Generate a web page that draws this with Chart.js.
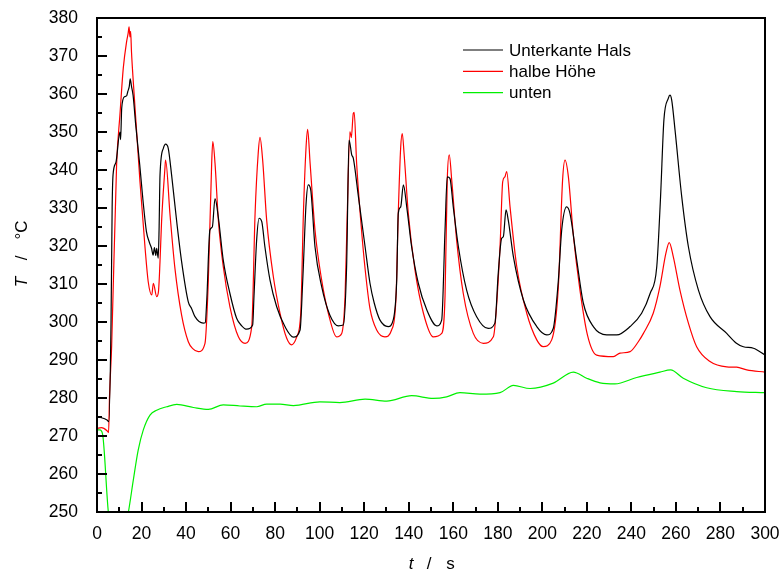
<!DOCTYPE html>
<html>
<head>
<meta charset="utf-8">
<script src="https://cdn.jsdelivr.net/npm/chart.js@4.4.1/dist/chart.umd.min.js"></script>
<style>
  html, body { margin: 0; padding: 0; background: #fff; }
</style>
</head>
<body>
<canvas id="tempChart" width="780" height="572"></canvas>
<script>
// Unterkante Hals (black)
const timeHals = [0, 2, 4.5, 5.3, 6.3, 6.8, 7.2, 8.5, 10.3, 10.6, 11.1, 12.4, 13.3, 13.8, 14.5, 14.9, 15.5, 16.2, 17.4, 19.2,
  20.7, 22.2, 23.5, 24.5, 25.2, 25.8, 26.4, 26.8, 27.5, 27.9, 28.3, 29.8, 30.8, 32, 33.5, 35.8, 38, 41, 42.5, 44,
  47.7, 48.6, 49.3, 50.7, 51.8, 53, 54.5, 56.7, 59.7, 62.7, 65, 67.2, 69.9, 70.5, 71.7, 72.8, 74, 75.4, 77.7, 80.7,
  84.4, 88.2, 91.2, 92.4, 93.9, 94.9, 96, 97.9, 100.9, 104.6, 108.4, 110.6, 112.1, 113.2, 114.4, 115.1, 117.4, 120.4, 122.6, 124.5,
  127.1, 130.8, 133, 134.6, 135.3, 136.4, 137.6, 139.1, 141.3, 144.3, 148.1, 152.6, 154.8, 156.3, 157.3, 158.5, 160, 162.3, 166, 170.5,
  175.7, 178.7, 180.2, 181.7, 182.5, 183.7, 184.7, 187, 191.5, 197.5, 202, 204.9, 207.2, 208.7, 210.9, 212.4, 215.4, 218.4, 222.9, 228.9,
  233.4, 239.4, 244.6, 248.4, 251.4, 253.1, 254.6, 256.6, 257.3, 258.1, 259.6, 262.6, 265.6, 270.1, 275.3, 282.8, 287, 290.3, 294.8, 300];
const tempHals = [275, 274.8, 274.2, 273.8, 300, 330, 338.7, 342, 350, 348, 356.3, 359.3, 359.5, 360.6, 362, 364, 362, 359.7, 351.8, 341.3,
  331.7, 323.8, 321, 319.4, 317.6, 319.6, 317.5, 319.4, 316.8, 325, 338.7, 345.7, 346.8, 345.7, 338.7, 326.4, 315.9, 305.3, 303.5, 301.4,
  299.7, 299.8, 305.8, 324.2, 325, 332.5, 327.5, 316.3, 307.5, 301, 299, 298.1, 299.2, 306.7, 321.6, 327.3, 326.4, 319.8, 311, 304,
  298.8, 296, 297.9, 311, 331.2, 336.1, 334.7, 319.8, 309.3, 301.8, 299, 299.2, 314.6, 347.9, 344, 343.1, 333, 319.8, 310.2, 305,
  300.5, 298.8, 300.5, 311, 328.6, 330.3, 336.1, 330.3, 319.8, 310.2, 303.2, 299, 300.5, 324.2, 338.2, 337.8, 330.3, 319.8, 308.4, 301.4,
  298.3, 299.7, 312.8, 322, 322.5, 329.5, 326.8, 317.2, 305.8, 298.8, 296.6, 298.3, 311, 324.2, 330.3, 328.6, 316.5, 305, 298.8, 296.6,
  296.6, 298.8, 302.3, 307.5, 314.6, 333, 353.2, 358.9, 359.7, 358.4, 350.5, 333, 319.8, 308.4, 301.4, 297, 294.5, 293.5, 293.1, 291.3];

// halbe Höhe (red)
const timeHalb = [0, 2, 4.5, 5.2, 5.6, 6.6, 8.8, 10.3, 11.8, 13.3, 14, 14.4, 14.8, 15.1, 15.5, 16.3, 17.8, 19.3, 21.6, 23,
  24.6, 25.3, 26.8, 27.6, 28.3, 29, 30.5, 30.8, 32.8, 35, 38, 41, 43, 45.5, 48.5, 50, 51.5, 52, 53, 54.5,
  56.7, 59.7, 63.5, 66.5, 69.5, 71, 72.4, 73.2, 74.4, 76.2, 79.2, 82.2, 85.2, 87.4, 89.7, 91.5, 92.7, 93.9, 94.6, 95.7,
  97.9, 100.9, 103.9, 107.6, 109.9, 111.4, 112.4, 113.6, 114.2, 115.1, 115.5, 116.6, 118.8, 120.4, 122.6, 125.6, 129.3, 132.3, 134.3, 135.3,
  136.4, 137.1, 137.9, 139.8, 142.8, 146.6, 151, 154.8, 156.3, 157.3, 158.2, 159.3, 161.5, 164.5, 169, 173.5, 178, 181, 182.2, 183.2,
  184, 185.5, 188.5, 193, 197.5, 200.4, 204.2, 207.2, 209.1, 210.2, 211.7, 213.9, 216.9, 220.3, 224.4, 231.9, 234.9, 239.4, 243.1, 245.4,
  249.8, 252.8, 255.5, 257, 258.8, 261.8, 265.6, 269.3, 275.3, 282.8, 287.3, 291.8, 300];
const tempHalb = [272, 272.2, 271.4, 270.9, 280, 294, 341.3, 354.5, 366.8, 373.8, 376, 377.7, 375, 376.5, 371, 363.2, 350.1, 336.9, 319.4, 310.6,
  307.1, 310.2, 306.7, 308, 315.9, 326.4, 340.4, 342.6, 328.2, 314.1, 301.8, 294.8, 293, 292.2, 294.4, 311, 341.8, 347.5, 341.8, 326.8,
  314.6, 304, 296.1, 294.4, 298.8, 328.6, 344.4, 348.6, 342.6, 326.8, 311.9, 302.3, 295.7, 294, 296.1, 302.3, 328.6, 346.1, 350.7, 341.8,
  324.2, 311, 302.3, 296.1, 297, 306.7, 328.6, 350.1, 348.5, 354.9, 355.2, 341.8, 324.2, 314, 303.5, 297.9, 296.1, 297.9, 306.7, 328.6,
  346.1, 349.6, 344.4, 328.6, 313.7, 302.3, 296.1, 297, 306.7, 337.4, 344, 337.4, 321.6, 307.5, 297, 294.4, 296.1, 319.8, 336.9, 338.2,
  339.6, 330.3, 314.6, 302.3, 295.3, 293.5, 295.3, 309.3, 337.4, 342.6, 338.2, 323, 308.4, 296.5, 291.3, 290.9, 291.8, 292.2, 294.8, 297,
  302.3, 309.3, 318.1, 320.9, 317.2, 308.4, 299.7, 293.5, 289.6, 288.2, 288.1, 287.4, 286.8];

// unten (green)
const timeUnten = [0, 1.3, 2.5, 5.1, 9.5, 14.1, 16.3, 18.5, 20.8, 23.8, 26.8, 31.3, 35.8, 43.3, 50, 56.7, 64.2, 71.7, 76.2, 82.2,
  88.2, 100.1, 109.1, 120.4, 130.1, 141.3, 151, 157, 163, 172, 181, 187, 194.5, 204.9, 213.9, 219.9, 225.9, 232.6, 242.4, 252.8,
  257.6, 263.3, 273.8, 287.3, 300];
const tempUnten = [271.6, 271.6, 270.5, 250, 238, 250, 258.4, 266.3, 271.6, 275.5, 276.8, 277.7, 278.3, 277.5, 277, 278.2, 277.9, 277.7, 278.4, 278.4,
  278, 279, 278.8, 279.7, 279.2, 280.6, 279.9, 280.3, 281.4, 281, 281.4, 283.3, 282.5, 283.9, 286.8, 285.2, 284, 283.7, 285.4, 286.8,
  287.4, 285.2, 282.7, 281.7, 281.4];

const seriesLabels = ["Unterkante Hals", "halbe Höhe", "unten"];
const seriesColors = ["#000000", "#ff0000", "#00f000"];

const FONT = "Liberation Sans, Arial, Helvetica, sans-serif";

function toPoints(ts, vs) {
  return ts.map((t, i) => ({ x: t, y: vs[i] }));
}

// frame, inward ticks, legend and the axis titles
const framePlugin = {
  id: "frame",
  afterDraw(chart) {
    const { ctx, chartArea: a } = chart;
    const x = chart.scales.x, y = chart.scales.y;
    ctx.save();
    ctx.strokeStyle = "#000";
    ctx.lineWidth = 2;
    ctx.strokeRect(a.left, a.top, a.right - a.left, a.bottom - a.top);

    ctx.beginPath();
    for (let v = x.min; v <= x.max; v += 10) {
      const px = Math.round(x.getPixelForValue(v));
      const len = v % 20 === 0 ? 10 : 5;
      ctx.moveTo(px, a.bottom);
      ctx.lineTo(px, a.bottom - len);
    }
    for (let v = y.min; v <= y.max; v += 5) {
      const py = Math.round(y.getPixelForValue(v));
      const len = v % 10 === 0 ? 10 : 5;
      ctx.moveTo(a.left, py);
      ctx.lineTo(a.left + len, py);
    }
    ctx.stroke();

    // legend
    ctx.font = "17px " + FONT;
    ctx.textBaseline = "middle";
    ctx.textAlign = "left";
    chart.data.datasets.forEach((ds, i) => {
      const ly = 50 + i * 21.3;
      ctx.strokeStyle = ds.borderColor;
      ctx.lineWidth = 1.2;
      ctx.beginPath();
      ctx.moveTo(463, ly);
      ctx.lineTo(503, ly);
      ctx.stroke();
      ctx.fillStyle = "#000";
      ctx.fillText(ds.label, 509, ly + 1);
    });

    // x title: t / s
    const cx = (a.left + a.right) / 2;
    ctx.textBaseline = "alphabetic";
    ctx.textAlign = "center";
    ctx.font = "italic 17px " + FONT;
    ctx.fillText("t", cx - 20, 569);
    ctx.font = "17px " + FONT;
    ctx.fillText("/", cx - 2, 569);
    ctx.fillText("s", cx + 19.5, 569);

    // y title: T / °C
    const cy = (a.top + a.bottom) / 2;
    ctx.translate(27, cy);
    ctx.rotate(-Math.PI / 2);
    ctx.font = "italic 17px " + FONT;
    ctx.fillText("T", -17, 0);
    ctx.font = "17px " + FONT;
    ctx.fillText("/", 7, 0);
    ctx.fillText("°C", 35, 0);
    ctx.restore();
  }
};

const ctx = document.getElementById("tempChart").getContext("2d");
new Chart(ctx, {
  type: "line",
  data: {
    datasets: [
      { label: seriesLabels[0], data: toPoints(timeHals, tempHals) },
      { label: seriesLabels[1], data: toPoints(timeHalb, tempHalb) },
      { label: seriesLabels[2], data: toPoints(timeUnten, tempUnten) }
    ].map((ds, i) => Object.assign(ds, {
      borderColor: seriesColors[i],
      borderWidth: 1.2,
      pointRadius: 0,
      cubicInterpolationMode: "monotone",
      fill: false
    }))
  },
  options: {
    responsive: false,
    animation: false,
    events: [],
    layout: { padding: { top: 18, right: 15, left: 0, bottom: 0 } },
    plugins: { legend: { display: false }, tooltip: { enabled: false } },
    scales: {
      x: {
        type: "linear",
        min: 0,
        max: 300,
        grid: { display: false },
        border: { display: false },
        ticks: { stepSize: 20, autoSkip: false, maxRotation: 0, padding: 4, color: "#000", font: { family: FONT, size: 17.5 } },
        afterFit: scale => {
          scale.height = 60;
          scale.paddingLeft = 0;
          scale.paddingRight = 0;
        }
      },
      y: {
        min: 250,
        max: 380,
        grid: { display: false },
        border: { display: false },
        ticks: { stepSize: 10, padding: 11, color: "#000", font: { family: FONT, size: 17.5 } },
        afterFit: scale => {
          scale.width = 97;
          scale.paddingTop = 0;
          scale.paddingBottom = 0;
        }
      }
    }
  },
  plugins: [framePlugin]
});
</script>
</body>
</html>
